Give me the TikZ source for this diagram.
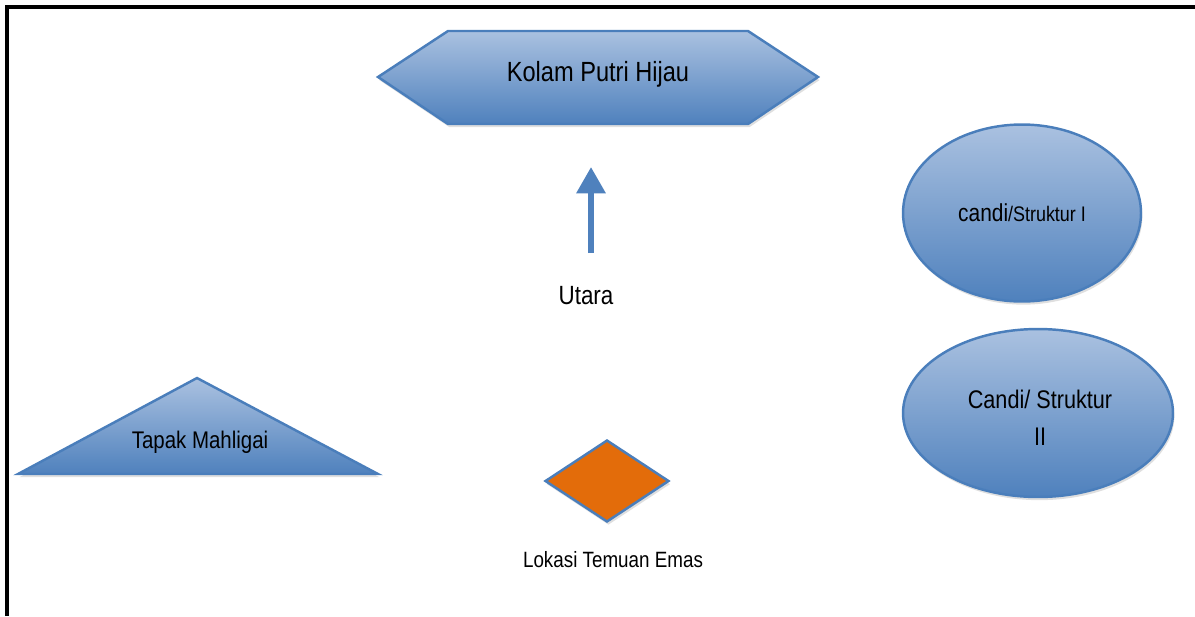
\documentclass[tikz,border=0pt]{standalone}
\usepackage{fontspec}
\setmainfont{Liberation Sans}[FakeStretch=0.85]
\usetikzlibrary{shapes.geometric,shadows,arrows.meta}

\definecolor{edgeblue}{RGB}{74,126,187}
\definecolor{lightblue}{RGB}{170,193,224}
\definecolor{darkblue}{RGB}{79,129,189}
\definecolor{goldorange}{RGB}{227,108,10}

\tikzset{
  siteshape/.style={draw=edgeblue, line width=1.4pt,
    drop shadow={shadow xshift=0.8pt, shadow yshift=-1.8pt, fill=black!25}},
  bluefill/.style={top color=lightblue, bottom color=darkblue},
  sitetext/.style={inner sep=0pt, align=center, font=\fontsize{15}{21}\selectfont},
  northarrow/.style={draw=darkblue, line width=3.4pt,
    -{Triangle[length=15pt,width=16pt]}}
}

\begin{document}
\begin{tikzpicture}[x=0.02cm,y=-0.02cm]
        \useasboundingbox (0,0) rectangle (1195,616);
        \draw[line width=2.2pt] (7,616) -- (7,7) -- (1195,7);
        \path[siteshape,bluefill] (378,77) -- (448,31) -- (748,31) -- (818,77) -- (748,124) -- (448,124) -- cycle;
        \node[sitetext, font=\fontsize{15.8}{21}\selectfont] (kolam) at (598,74) {Kolam Putri Hijau};
        \coordinate (tail) at (591,253);
        \coordinate (head) at (591,167);
        \draw[northarrow] (tail) -- (head);
        \node[sitetext] (utara) at (586,296) {Utara};
        \path[siteshape,bluefill] (18,474) -- (197,378) -- (378,474) -- cycle;
        \node[sitetext, font=\fontsize{13.7}{16}\selectfont] (tapak) at (200,442) {Tapak Mahligai};
        \node[siteshape, diamond, fill=goldorange, inner sep=0pt, minimum width=2.48cm, minimum height=1.64cm] (emas) at (607,481) {};
        \node[sitetext, font=\fontsize{12.6}{14}\selectfont] (lokasi) at (613,560) {Lokasi Temuan Emas};
        \node[siteshape, bluefill, ellipse, inner sep=0pt, minimum width=4.76cm, minimum height=3.54cm] (candiA) at (1022,213) {};
        \node[sitetext] at (candiA) {{\fontsize{14}{16}\selectfont candi}{\fontsize{12}{14}\selectfont/Struktur I}};
        \node[siteshape, bluefill, ellipse, inner sep=0pt, minimum width=5.4cm, minimum height=3.36cm] (candiB) at (1038,413) {};
        \node[sitetext, font=\fontsize{14.5}{21}\selectfont] (candiBtext) at (1040,418) {Candi/ Struktur\\ II};
    \end{tikzpicture}
\end{document}
